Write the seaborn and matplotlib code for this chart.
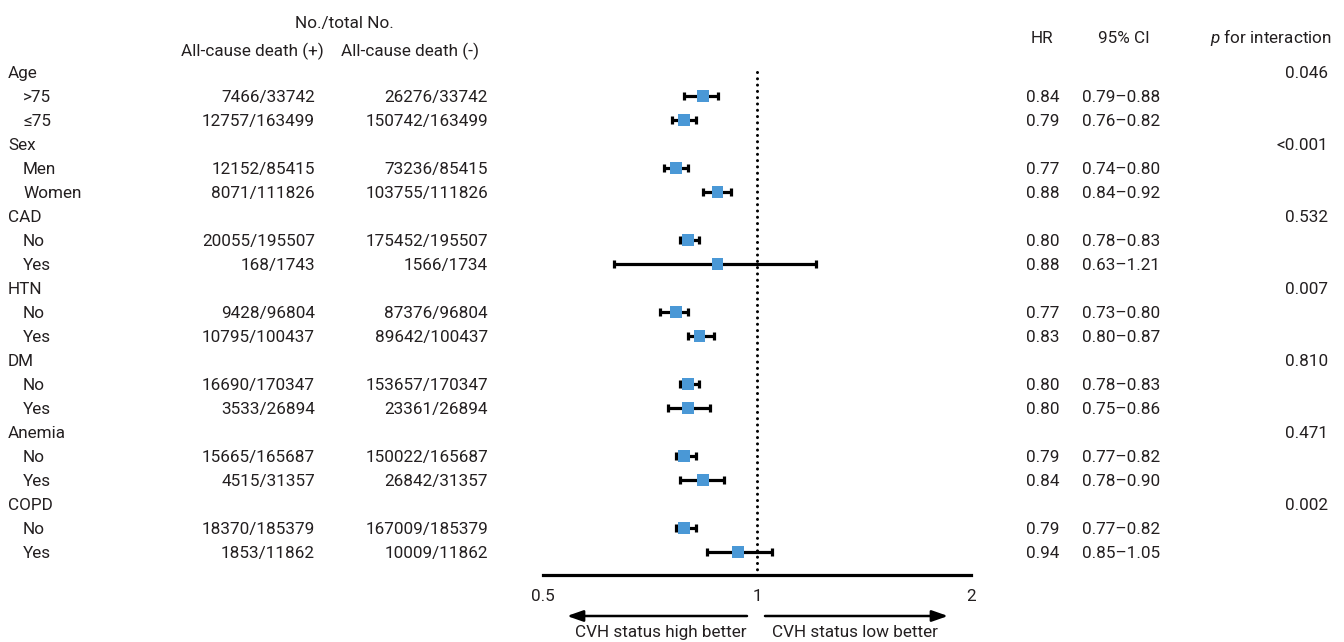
import matplotlib
matplotlib.use("Agg")
import matplotlib.pyplot as plt
import matplotlib.transforms as mtransforms
from matplotlib.ticker import FixedLocator, NullLocator
import numpy as np
import pandas as pd
import seaborn as sns

# ---- data -------------------------------------------------------------
groups = ["Age", "Sex", "CAD", "HTN", "DM", "Anemia", "COPD"]
subgroups = [[">75", "≤75"], ["Men", "Women"], ["No", "Yes"], ["No", "Yes"],
             ["No", "Yes"], ["No", "Yes"], ["No", "Yes"]]
p_interaction = ["0.046", "<0.001", "0.532", "0.007", "0.810", "0.471", "0.002"]

death_pos = ["7466/33742", "12757/163499", "12152/85415", "8071/111826",
             "20055/195507", "168/1743", "9428/96804", "10795/100437",
             "16690/170347", "3533/26894", "15665/165687", "4515/31357",
             "18370/185379", "1853/11862"]
death_neg = ["26276/33742", "150742/163499", "73236/85415", "103755/111826",
             "175452/195507", "1566/1734", "87376/96804", "89642/100437",
             "153657/170347", "23361/26894", "150022/165687", "26842/31357",
             "167009/185379", "10009/11862"]
hr = [0.84, 0.79, 0.77, 0.88, 0.80, 0.88, 0.77, 0.83, 0.80, 0.80, 0.79, 0.84, 0.79, 0.94]
ci_low = [0.79, 0.76, 0.74, 0.84, 0.78, 0.63, 0.73, 0.80, 0.78, 0.75, 0.77, 0.78, 0.77, 0.85]
ci_high = [0.88, 0.82, 0.80, 0.92, 0.83, 1.21, 0.80, 0.87, 0.83, 0.86, 0.82, 0.90, 0.82, 1.05]

x_ticks = [0.5, 1, 2]
x_tick_labels = ["0.5", "1", "2"]

# ---- layout of rows ---------------------------------------------------
rows = []          # (row index, label, is_group, group index, sub index)
r = 0
k = 0
for gi, g in enumerate(groups):
    rows.append((r, g, True, gi, None))
    r += 1
    for s in subgroups[gi]:
        rows.append((r, s, False, gi, k))
        r += 1
        k += 1

df = pd.DataFrame({
    "row": [rw[0] for rw in rows if not rw[2]],
    "hr": hr, "lo": ci_low, "hi": ci_high,
})

# ---- style ------------------------------------------------------------
sns.set_theme(style="white")
plt.rcParams["font.family"] = ["Roboto", "DejaVu Sans"]
plt.rcParams["mathtext.fontset"] = "custom"
plt.rcParams["mathtext.rm"] = "Roboto"
plt.rcParams["mathtext.it"] = "Roboto:italic"
TXT = "#231f20"
FS = 12.3
BLUE = "#4a98d6"

W, H = 1344, 642
fig = plt.figure(figsize=(W / 100, H / 100), dpi=100)
fig.patch.set_facecolor("white")

# forest panel: x 543..971 px, y from top to axis line at 575 px
ax_left, ax_right, ax_bottom_px = 543, 971, 575
ax = fig.add_axes([ax_left / W, (H - ax_bottom_px) / H,
                   (ax_right - ax_left) / W, ax_bottom_px / H])
ax.set_xscale("log", base=2)
ax.set_xlim(0.5, 2)
row_top_px, row_step = 72, 24
ax.set_ylim((ax_bottom_px - row_top_px) / row_step, -row_top_px / row_step)

for side in ["top", "left", "right"]:
    ax.spines[side].set_visible(False)
ax.spines["bottom"].set_linewidth(2.3)
ax.spines["bottom"].set_color("black")
ax.xaxis.set_major_locator(FixedLocator(x_ticks))
ax.xaxis.set_minor_locator(NullLocator())
ax.set_xticklabels(x_tick_labels)
ax.tick_params(axis="x", length=0, pad=10, labelsize=FS, labelcolor=TXT)
ax.yaxis.set_major_locator(NullLocator())
ax.set_facecolor("none")

# reference line at HR = 1
ax.plot([1, 1], [0, (ax_bottom_px - 3 - row_top_px) / row_step], color="black",
        lw=2.2, linestyle=(0, (0.01, 2.05)), dash_capstyle="round", zorder=1)

# confidence intervals and point estimates
ax.errorbar(df["hr"], df["row"],
            xerr=[df["hr"] - df["lo"], df["hi"] - df["hr"]],
            fmt="none", ecolor="black", elinewidth=2.3, capsize=3.2,
            capthick=2.3, zorder=2)
sns.scatterplot(data=df, x="hr", y="row", ax=ax, marker="s", s=70,
                color=BLUE, edgecolor="none", linewidth=0, zorder=3, legend=False)
ax.set_xlabel("")
ax.set_ylabel("")

# ---- table text -------------------------------------------------------
fig_x = lambda px: px / W
trans = mtransforms.blended_transform_factory(fig.transFigure, ax.transData)
base = 6.2 / row_step   # shift from visual centre to baseline


def put(px, row, s, ha="left", **kw):
    fig.text(fig_x(px), row + base, s, transform=trans, ha=ha, va="baseline",
             fontsize=FS, color=TXT, **kw)


for (ri, label, is_group, gi, si) in rows:
    if is_group:
        put(8, ri, label)
        put(1328, ri, p_interaction[gi], ha="right")
    else:
        put(23, ri, label)
        put(315, ri, death_pos[si], ha="right")
        put(488, ri, death_neg[si], ha="right")
        put(1026, ri, f"{hr[si]:.2f}")
        put(1082, ri, f"{ci_low[si]:.2f}\u2013{ci_high[si]:.2f}")

# headers
hdr = lambda py: (py - row_top_px) / row_step
put(344, hdr(22), "No./total No.", ha="center")
put(252, hdr(50), "All-cause death (+)", ha="center")
put(410, hdr(50), "All-cause death (-)", ha="center")
put(1042, hdr(37), "HR", ha="center")
put(1124, hdr(37), "95% CI", ha="center")
put(1332, hdr(37), r"$\mathit{p}$ for interaction", ha="right")

# ---- direction arrows under the axis ----------------------------------
def px_to_hr(px):
    return 2 ** ((px - 757) / 214.0)


arrow_y = (ax_bottom_px - 616) / ax_bottom_px
text_y = (ax_bottom_px - 637) / ax_bottom_px
arrow_kw = dict(arrowstyle="-|>,head_length=0.8,head_width=0.28", color="black",
                lw=1.8, shrinkA=0, shrinkB=0)
ax.annotate("", xy=(px_to_hr(567), arrow_y), xytext=(px_to_hr(747), arrow_y),
            xycoords=("data", "axes fraction"), textcoords=("data", "axes fraction"),
            arrowprops=arrow_kw, annotation_clip=False)
ax.annotate("", xy=(px_to_hr(948), arrow_y), xytext=(px_to_hr(765), arrow_y),
            xycoords=("data", "axes fraction"), textcoords=("data", "axes fraction"),
            arrowprops=arrow_kw, annotation_clip=False)
bt = mtransforms.blended_transform_factory(ax.transData, ax.transAxes)
ax.text(px_to_hr(661), text_y, "CVH status high better", transform=bt,
        ha="center", va="baseline", fontsize=FS, color=TXT)
ax.text(px_to_hr(855), text_y, "CVH status low better", transform=bt,
        ha="center", va="baseline", fontsize=FS, color=TXT)

fig.savefig("out.png", dpi=100, facecolor="white")
